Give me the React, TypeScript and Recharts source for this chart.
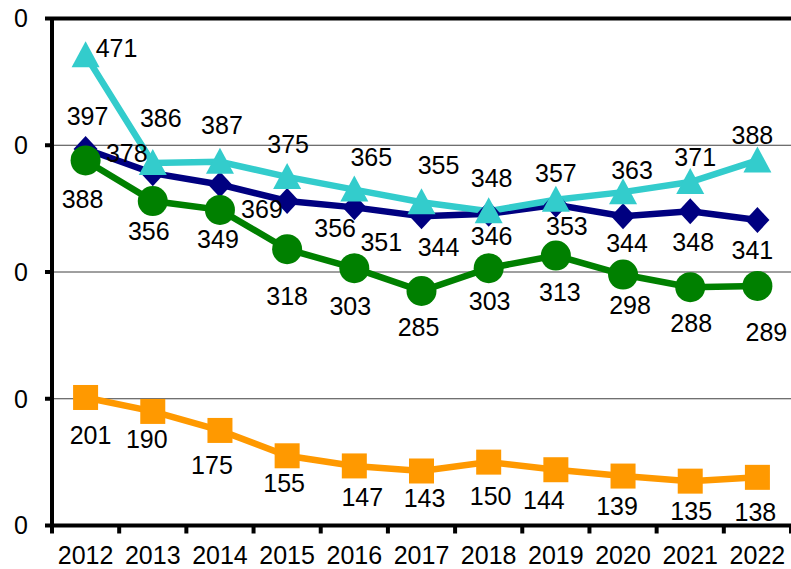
import React from 'react'
import { LineChart, Line, XAxis, YAxis, CartesianGrid, ReferenceLine, LabelList } from 'recharts'

const years = ['2012', '2013', '2014', '2015', '2016', '2017', '2018', '2019', '2020', '2021', '2022']
const navyValues = [397, 378, 369, 356, 351, 344, 346, 353, 344, 348, 341]
const cyanValues = [471, 386, 387, 375, 365, 355, 348, 357, 363, 371, 388]
const greenValues = [388, 356, 349, 318, 303, 285, 303, 313, 298, 288, 289]
const orangeValues = [201, 190, 175, 155, 147, 143, 150, 144, 139, 135, 138]
const yTicks = [100, 200, 300, 400, 500]

const data = years.map((year, i) => ({
    year,
    navy: navyValues[i],
    cyan: cyanValues[i],
    green: greenValues[i],
    orange: orangeValues[i],
}))

// label placement (dx, dy from the point)
const cyanLabelPos = [[31, -7], [8, -45], [2, -37], [1, -33], [17, -33], [17, -37], [3, -33], [0, -27], [9, -22], [5, -25], [-5, -25]]
const navyLabelPos = [[2, -33], [-26, -20], [42, 24], [48, 27], [27, 35], [17, 31], [3, 22], [11, 21], [4, 27], [3, 31], [-5, 30]]
const greenLabelPos = [[-3, 39], [-4, 30], [-2, 29], [0, 47], [-4, 38], [-3, 36], [1, 33], [4, 36], [7, 30], [1, 36], [9, 46]]
const orangeLabelPos = [[5, 38], [-6, 28], [-8, 35], [-3, 27], [8, 31], [3, 27], [2, 34], [-12, 30], [-6, 30], [1, 30], [-2, 35]]

const FONT = '"Liberation Sans", Arial, sans-serif'

const makeLabel = (pos: number[][]) => (props: any) => {
    const { x, y, value, index } = props
    const [dx, dy] = pos[index] || [0, 0]
    return (
        <text x={x + dx} y={y + dy + 9} textAnchor="middle" fontSize={25} fontFamily={FONT} fill="#000">
            {value}
        </text>
    )
}

const Triangle = (props: any) => {
    const { cx, cy, index } = props
    return <polygon key={index} points={`${cx},${cy - 14} ${cx - 14},${cy + 12} ${cx + 14},${cy + 12}`} fill="#33CCCC" />
}
const Diamond = (props: any) => {
    const { cx, cy, index } = props
    return <polygon key={index} points={`${cx},${cy - 13} ${cx + 12},${cy} ${cx},${cy + 13} ${cx - 12},${cy}`} fill="#000080" />
}
const Circle = (props: any) => {
    const { cx, cy, index } = props
    return <circle key={index} cx={cx} cy={cy} r={15} fill="#008000" />
}
const Square = (props: any) => {
    const { cx, cy, index } = props
    return <rect key={index} x={cx - 12.5} y={cy - 12.5} width={25} height={25} fill="#FF9900" />
}

const XTick = (props: any) => {
    const { x, y, payload, index } = props
    const half = payload && payload.offset ? payload.offset : 33.6
    return (
        <g>
            <line x1={x - half} y1={y} x2={x - half} y2={y + 8} stroke="#000" strokeWidth={4} />
            {index === years.length - 1 && (
                <line x1={x + half} y1={y} x2={x + half} y2={y + 8} stroke="#000" strokeWidth={4} />
            )}
            <text x={x} y={y + 38} textAnchor="middle" fontSize={25} fontFamily={FONT} fill="#000">
                {payload.value}
            </text>
        </g>
    )
}

export default function App() {
    return (
        <div style={{ position: 'absolute', left: 0, top: 0, width: 791, height: 569, background: '#fff' }}>
            <LineChart width={791} height={569} data={data} margin={{ top: 18.5, right: 0, bottom: 0, left: 0 }}>
                <CartesianGrid vertical={false} stroke="#404040" strokeWidth={1} />
                <XAxis
                    dataKey="year"
                    scale="band"
                    height={43.5}
                    axisLine={{ stroke: '#000', strokeWidth: 4 }}
                    tickLine={false}
                    tickSize={0}
                    tickMargin={0}
                    interval={0}
                    tick={<XTick />}
                />
                <YAxis
                    width={52}
                    domain={[100, 500]}
                    ticks={yTicks}
                    tickFormatter={() => '0'}
                    axisLine={{ stroke: '#000', strokeWidth: 4 }}
                    tickLine={{ stroke: '#000', strokeWidth: 4 }}
                    tickSize={7}
                    tickMargin={17}
                    tick={{ fill: '#000', fontSize: 25, fontFamily: FONT }}
                />
                <ReferenceLine y={500} stroke="#000" strokeWidth={4} />
                <Line dataKey="orange" stroke="#FF9900" strokeWidth={6.5} dot={<Square />} isAnimationActive={false}>
                    <LabelList dataKey="orange" content={makeLabel(orangeLabelPos)} />
                </Line>
                <Line dataKey="navy" stroke="#000080" strokeWidth={6.5} dot={<Diamond />} isAnimationActive={false}>
                    <LabelList dataKey="navy" content={makeLabel(navyLabelPos)} />
                </Line>
                <Line dataKey="green" stroke="#008000" strokeWidth={6.5} dot={<Circle />} isAnimationActive={false}>
                    <LabelList dataKey="green" content={makeLabel(greenLabelPos)} />
                </Line>
                <Line dataKey="cyan" stroke="#33CCCC" strokeWidth={6.5} dot={<Triangle />} isAnimationActive={false}>
                    <LabelList dataKey="cyan" content={makeLabel(cyanLabelPos)} />
                </Line>
            </LineChart>
        </div>
    )
}
